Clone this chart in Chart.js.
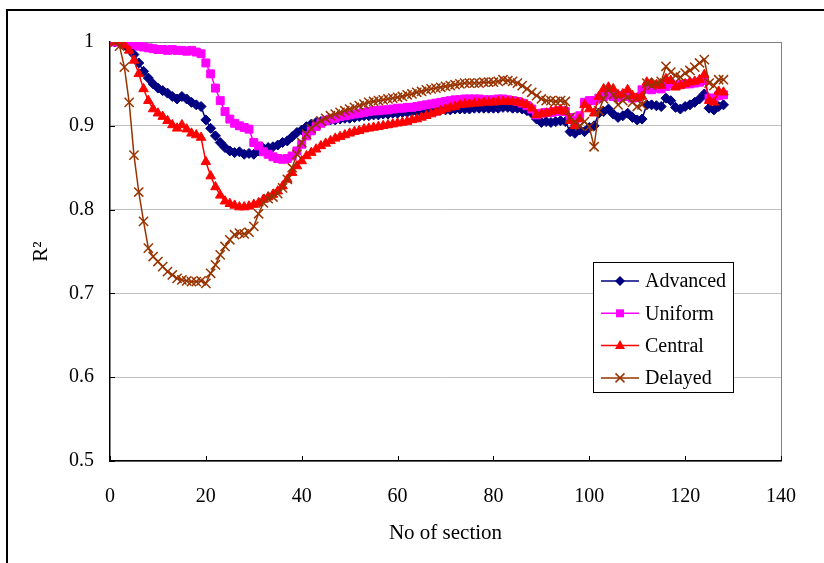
<!DOCTYPE html>
<html>
<head>
<meta charset="utf-8">
<script src="https://cdn.jsdelivr.net/npm/chart.js@4.4.0/dist/chart.umd.min.js"></script>
<style>
  html, body { margin: 0; padding: 0; background: #fff; }
  #wrap { width: 824px; height: 563px; }
</style>
</head>
<body>
<div id="wrap"><canvas id="chart" width="824" height="563"></canvas></div>
<script>
// section numbers (x categories)
const sections = [
  1, 2, 3, 4, 5, 6, 7, 8, 9, 10, 11, 12, 13, 14, 15, 16, 17, 18, 19, 20,
  21, 22, 23, 24, 25, 26, 27, 28, 29, 30, 31, 32, 33, 34, 35, 36, 37, 38, 39, 40,
  41, 42, 43, 44, 45, 46, 47, 48, 49, 50, 51, 52, 53, 54, 55, 56, 57, 58, 59, 60,
  61, 62, 63, 64, 65, 66, 67, 68, 69, 70, 71, 72, 73, 74, 75, 76, 77, 78, 79, 80,
  81, 82, 83, 84, 85, 86, 87, 88, 89, 90, 91, 92, 93, 94, 95, 96, 97, 98, 99, 100,
  101, 102, 103, 104, 105, 106, 107, 108, 109, 110, 111, 112, 113, 114, 115, 116, 117, 118, 119, 120,
  121, 122, 123, 124, 125, 126, 127, 128
];

const advanced = [
  1.000, 1.000, 0.997, 0.992, 0.985, 0.975, 0.965, 0.957, 0.950, 0.945,
  0.942, 0.939, 0.935, 0.932, 0.935, 0.932, 0.928, 0.925, 0.923, 0.907,
  0.897, 0.888, 0.880, 0.874, 0.870, 0.868, 0.869, 0.866, 0.867, 0.866,
  0.870, 0.873, 0.874, 0.875, 0.877, 0.880, 0.882, 0.887, 0.892, 0.895,
  0.899, 0.902, 0.904, 0.905, 0.906, 0.907, 0.907, 0.908, 0.909, 0.909,
  0.910, 0.911, 0.912, 0.912, 0.913, 0.913, 0.914, 0.914, 0.915, 0.915,
  0.916, 0.916, 0.917, 0.917, 0.917, 0.918, 0.918, 0.918, 0.919, 0.919,
  0.919, 0.920, 0.920, 0.920, 0.920, 0.921, 0.921, 0.921, 0.921, 0.921,
  0.921, 0.922, 0.922, 0.921, 0.921, 0.920, 0.918, 0.915, 0.908, 0.904,
  0.905, 0.904, 0.905, 0.906, 0.905, 0.893, 0.891, 0.895, 0.893, 0.898,
  0.900, 0.915, 0.917, 0.920, 0.914, 0.910, 0.912, 0.915, 0.910, 0.907,
  0.908, 0.925, 0.925, 0.924, 0.923, 0.933, 0.930, 0.922, 0.920, 0.923,
  0.925, 0.928, 0.932, 0.938, 0.921, 0.919, 0.923, 0.925
];

const uniform = [
  1.000, 1.000, 0.999, 0.998, 0.997, 0.995, 0.994, 0.993, 0.992, 0.991,
  0.991, 0.990, 0.991, 0.990, 0.990, 0.989, 0.990, 0.988, 0.986, 0.975,
  0.962, 0.945, 0.930, 0.917, 0.908, 0.903, 0.900, 0.898, 0.896, 0.880,
  0.876, 0.869, 0.866, 0.863, 0.861, 0.860, 0.861, 0.864, 0.870, 0.878,
  0.888, 0.894, 0.899, 0.903, 0.906, 0.908, 0.909, 0.911, 0.912, 0.913,
  0.914, 0.915, 0.916, 0.917, 0.918, 0.918, 0.919, 0.919, 0.920, 0.921,
  0.921, 0.922, 0.922, 0.923, 0.924, 0.925, 0.926, 0.927, 0.928, 0.929,
  0.930, 0.931, 0.931, 0.932, 0.932, 0.932, 0.932, 0.931, 0.931, 0.931,
  0.932, 0.932, 0.931, 0.930, 0.929, 0.927, 0.924, 0.920, 0.913, 0.915,
  0.916, 0.916, 0.917, 0.918, 0.917, 0.910, 0.906, 0.912, 0.928, 0.930,
  0.930, 0.933, 0.935, 0.937, 0.935, 0.934, 0.936, 0.935, 0.933, 0.934,
  0.943, 0.944, 0.943, 0.945, 0.944, 0.947, 0.950, 0.948, 0.949, 0.950,
  0.950, 0.951, 0.952, 0.954, 0.933, 0.933, 0.936, 0.937
];

const central = [
  1.000, 1.000, 0.996, 0.990, 0.978, 0.962, 0.944, 0.930, 0.920, 0.915,
  0.911, 0.906, 0.901, 0.897, 0.901, 0.896, 0.891, 0.889, 0.886, 0.857,
  0.840, 0.827, 0.817, 0.810, 0.807, 0.805, 0.803, 0.803, 0.804, 0.806,
  0.808, 0.812, 0.815, 0.818, 0.822, 0.828, 0.836, 0.844, 0.852, 0.858,
  0.864, 0.868, 0.872, 0.876, 0.879, 0.882, 0.885, 0.887, 0.889, 0.891,
  0.893, 0.894, 0.896, 0.897, 0.898, 0.899, 0.900, 0.901, 0.902, 0.903,
  0.904, 0.905, 0.907, 0.908, 0.910, 0.912, 0.914, 0.916, 0.918, 0.920,
  0.922, 0.923, 0.925, 0.926, 0.926, 0.927, 0.927, 0.928, 0.928, 0.928,
  0.929, 0.929, 0.929, 0.929, 0.928, 0.927, 0.925, 0.921, 0.913, 0.914,
  0.915, 0.917, 0.918, 0.919, 0.917, 0.906, 0.900, 0.908, 0.925, 0.920,
  0.915, 0.935, 0.944, 0.946, 0.944, 0.937, 0.938, 0.943, 0.936, 0.933,
  0.935, 0.952, 0.951, 0.949, 0.948, 0.956, 0.954, 0.946, 0.948, 0.950,
  0.952, 0.953, 0.955, 0.961, 0.930, 0.928, 0.941, 0.940
];

const delayed = [
  1.000, 0.995, 0.970, 0.928, 0.865, 0.821, 0.786, 0.754, 0.744, 0.738,
  0.732, 0.726, 0.722, 0.718, 0.716, 0.715, 0.714, 0.714, 0.715, 0.712,
  0.724, 0.734, 0.746, 0.756, 0.764, 0.770, 0.772, 0.771, 0.773, 0.780,
  0.795, 0.808, 0.813, 0.815, 0.819, 0.826, 0.836, 0.850, 0.866, 0.880,
  0.890, 0.897, 0.902, 0.906, 0.909, 0.912, 0.914, 0.916, 0.918, 0.920,
  0.922, 0.924, 0.926, 0.928, 0.929, 0.930, 0.931, 0.932, 0.933, 0.934,
  0.935, 0.937, 0.938, 0.940, 0.941, 0.943, 0.944, 0.945, 0.946, 0.947,
  0.948, 0.949, 0.950, 0.951, 0.951, 0.951, 0.951, 0.952, 0.952, 0.952,
  0.953, 0.955, 0.954, 0.953, 0.951, 0.948, 0.944, 0.940, 0.936, 0.932,
  0.930, 0.930, 0.929, 0.930, 0.929, 0.910, 0.905, 0.900, 0.905, 0.899,
  0.875, 0.918, 0.932, 0.943, 0.937, 0.925, 0.930, 0.934, 0.928, 0.923,
  0.925, 0.951, 0.948, 0.951, 0.953, 0.971, 0.964, 0.960, 0.958, 0.963,
  0.966, 0.970, 0.975, 0.979, 0.951, 0.948, 0.955, 0.955
];

const xTicks = [0, 20, 40, 60, 80, 100, 120, 140];
const yTicks = [0.5, 0.6, 0.7, 0.8, 0.9, 1];
const yTickLabels = ['0.5', '0.6', '0.7', '0.8', '0.9', '1'];

const seriesNames = ['Advanced', 'Uniform', 'Central', 'Delayed'];
const seriesColors = ['#000080', '#ff00ff', '#ff0000', '#993300'];
const seriesStyles = ['rectRot', 'rect', 'triangle', 'crossRot'];
const seriesRadius = [5, 5.6, 5.5, 6.5];

const serif = '"Liberation Serif", "Times New Roman", serif';

function pts(values) {
  return values.map((v, i) => ({ x: sections[i], y: v }));
}

const allSeries = [advanced, uniform, central, delayed];
const datasets = allSeries.map((vals, i) => ({
  label: seriesNames[i],
  data: pts(vals),
  borderColor: seriesColors[i],
  backgroundColor: seriesColors[i],
  pointBackgroundColor: seriesColors[i],
  pointBorderColor: seriesColors[i],
  pointStyle: seriesStyles[i],
  pointRadius: seriesRadius[i],
  pointBorderWidth: i === 3 ? 1.5 : 1,
  borderWidth: 1.5,
  tension: 0,
  order: 4 - i,
}));

function drawMarker(ctx, style, x, y, color) {
  ctx.save();
  ctx.fillStyle = color;
  ctx.strokeStyle = color;
  ctx.lineWidth = 1.5;
  ctx.beginPath();
  if (style === 'rectRot') {
    ctx.moveTo(x, y - 5); ctx.lineTo(x + 5, y); ctx.lineTo(x, y + 5); ctx.lineTo(x - 5, y);
    ctx.closePath(); ctx.fill();
  } else if (style === 'rect') {
    ctx.rect(x - 4, y - 4, 8, 8); ctx.fill();
  } else if (style === 'triangle') {
    ctx.moveTo(x, y - 5.5); ctx.lineTo(x + 5, y + 3.5); ctx.lineTo(x - 5, y + 3.5);
    ctx.closePath(); ctx.fill();
  } else {
    ctx.moveTo(x - 4.5, y - 4.5); ctx.lineTo(x + 4.5, y + 4.5);
    ctx.moveTo(x + 4.5, y - 4.5); ctx.lineTo(x - 4.5, y + 4.5);
    ctx.stroke();
  }
  ctx.restore();
}

const decor = {
  id: 'decor',
  beforeDraw(chart) {
    const ctx = chart.ctx;
    ctx.save();
    ctx.fillStyle = '#fff';
    ctx.fillRect(0, 0, chart.width, chart.height);
    // outer frame
    ctx.strokeStyle = '#000';
    ctx.lineWidth = 2;
    ctx.strokeRect(7, 10, 1000, 800);
    ctx.restore();
  },
  beforeDatasetsDraw(chart) {
    const ctx = chart.ctx;
    const a = chart.chartArea;
    const xs = chart.scales.x, ys = chart.scales.y;
    ctx.save();
    // right border of plot area
    ctx.strokeStyle = '#808080';
    ctx.lineWidth = 1;
    ctx.beginPath();
    ctx.moveTo(Math.round(a.right) + 0.5, a.top);
    ctx.lineTo(Math.round(a.right) + 0.5, a.bottom);
    ctx.moveTo(a.left, Math.round(a.top) + 0.5);
    ctx.lineTo(a.right, Math.round(a.top) + 0.5);
    ctx.stroke();
    // inward tick marks
    ctx.strokeStyle = '#000';
    ctx.beginPath();
    xTicks.forEach(v => {
      const px = Math.round(xs.getPixelForValue(v)) + 0.5;
      ctx.moveTo(px, a.bottom);
      ctx.lineTo(px, a.bottom - 5);
    });
    yTicks.forEach(v => {
      const py = Math.round(ys.getPixelForValue(v)) + 0.5;
      ctx.moveTo(a.left, py);
      ctx.lineTo(a.left + 5, py);
    });
    ctx.stroke();
    ctx.restore();
  },
  afterDraw(chart) {
    const ctx = chart.ctx;
    const bx = 593, by = 262, bw = 140, bh = 130;
    ctx.save();
    ctx.fillStyle = '#fff';
    ctx.fillRect(bx, by, bw, bh);
    ctx.strokeStyle = '#000';
    ctx.lineWidth = 1;
    ctx.strokeRect(bx + 0.5, by + 0.5, bw, bh);
    ctx.font = '20px ' + serif;
    ctx.textBaseline = 'middle';
    ctx.textAlign = 'left';
    seriesNames.forEach((name, i) => {
      const y = 281 + i * 32.3;
      ctx.strokeStyle = seriesColors[i];
      ctx.lineWidth = 1.5;
      ctx.beginPath();
      ctx.moveTo(601, y);
      ctx.lineTo(639, y);
      ctx.stroke();
      drawMarker(ctx, seriesStyles[i], 620, y, seriesColors[i]);
      ctx.fillStyle = '#000';
      ctx.fillText(name, 645, y + 1);
    });
    ctx.restore();
  }
};

new Chart(document.getElementById('chart'), {
  type: 'line',
  data: { datasets: datasets },
  plugins: [decor],
  options: {
    responsive: false,
    animation: false,
    layout: { padding: { left: 0, top: 42, right: 43, bottom: 0 } },
    plugins: { legend: { display: false }, tooltip: { enabled: false } },
    scales: {
      x: {
        type: 'linear',
        min: 0,
        max: 140,
        afterBuildTicks: s => { s.ticks = xTicks.map(v => ({ value: v })); },
        afterFit: s => { s.height = 102; },
        grid: { display: false, drawTicks: false },
        border: { display: true, color: '#000', width: 1.5 },
        ticks: {
          color: '#000',
          padding: 24,
          maxRotation: 0,
          font: { family: serif, size: 20 },
          callback: v => String(v)
        },
        title: {
          display: true,
          text: 'No of section',
          color: '#000',
          font: { family: serif, size: 21 },
          padding: { top: 0, bottom: 17 }
        }
      },
      y: {
        min: 0.5,
        max: 1,
        afterBuildTicks: s => { s.ticks = yTicks.map(v => ({ value: v })); },
        afterFit: s => { s.width = 110; },
        grid: { color: '#c0c0c0', lineWidth: 1, drawTicks: false },
        border: { display: true, color: '#000', width: 1.5 },
        ticks: {
          color: '#000',
          padding: 16,
          font: { family: serif, size: 20 },
          callback: (v) => yTickLabels[yTicks.findIndex(t => Math.abs(t - v) < 1e-6)]
        },
        title: {
          display: true,
          text: 'R²',
          color: '#000',
          font: { family: serif, size: 21 },
          padding: { top: 29, bottom: 0 }
        }
      }
    }
  }
});
</script>
</body>
</html>
